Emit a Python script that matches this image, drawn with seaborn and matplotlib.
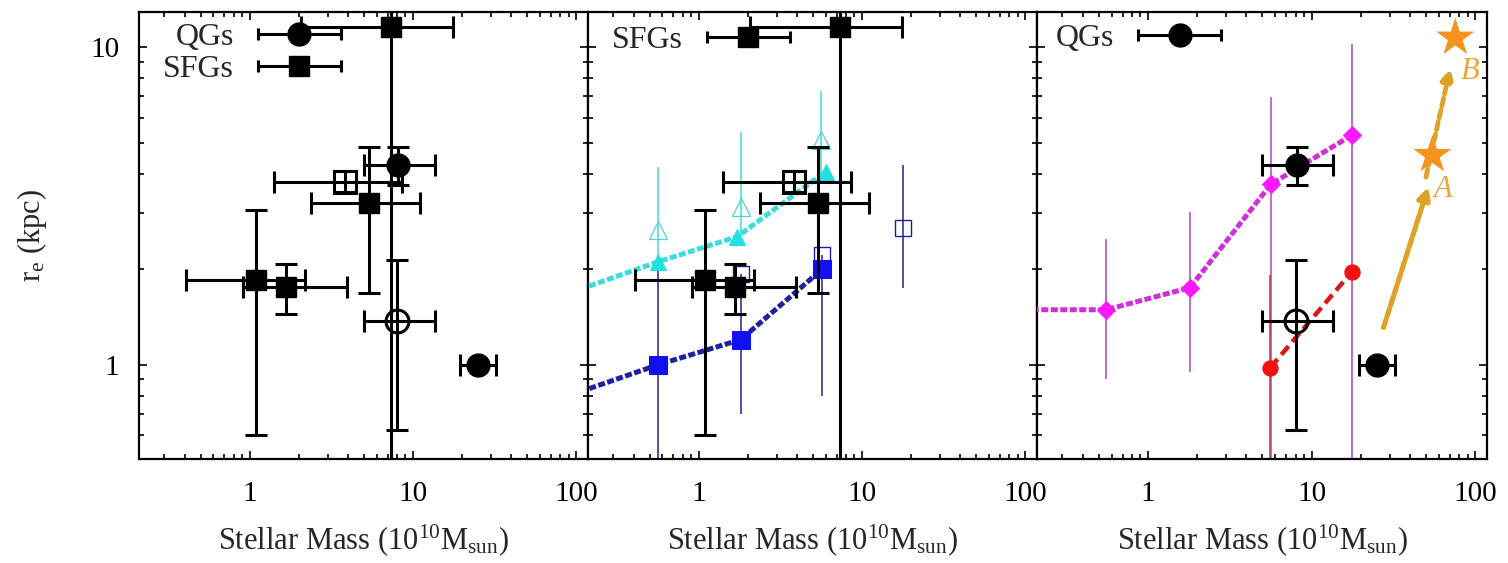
import numpy as np
import matplotlib
matplotlib.use("Agg")
import matplotlib.pyplot as plt
import matplotlib.ticker as mticker
import seaborn as sns
from matplotlib.container import ErrorbarContainer
from matplotlib.legend_handler import HandlerErrorbar

# ---------------- data (stellar mass in 1e10 Msun, r_e in kpc) ----------------
# star-forming galaxies, filled black squares: value, lower, upper
sfg_mass = [7.3, 5.37, 1.10, 1.68]
sfg_mass_lo = [2.05, 2.39, 0.41, 0.914]
sfg_mass_hi = [17.5, 11.0, 2.18, 3.92]
sfg_re = [11.6, 3.22, 1.85, 1.76]
sfg_re_lo = [0.5, 1.68, 0.60, 1.445]
sfg_re_hi = [25.0, 4.85, 3.08, 2.08]
# star-forming galaxy, open black square
sfgo_mass = [3.83]
sfgo_mass_lo = [1.41]
sfgo_mass_hi = [8.6]
sfgo_re = [3.77]
sfgo_re_lo = [3.50]
sfgo_re_hi = [4.08]
# quiescent galaxies, filled black circles
qg_mass = [8.1, 25.1]
qg_mass_lo = [5.0, 19.4]
qg_mass_hi = [13.6, 32.2]
qg_re = [4.25, 1.0]
qg_re_lo = [3.67, 1.0]
qg_re_hi = [4.85, 1.0]
# quiescent galaxy, open black circle
qgo_mass = [8.0]
qgo_mass_lo = [5.0]
qgo_mass_hi = [13.6]
qgo_re = [1.37]
qgo_re_lo = [0.625]
qgo_re_hi = [2.13]

# panel 2: cyan relation (filled triangles) and open triangles with upper bars
cyan_mass = [0.1, 0.564, 1.72, 5.98]
cyan_re = [1.54, 2.11, 2.53, 4.05]
cyan_open_mass = [0.564, 1.81, 5.6]
cyan_open_re = [2.66, 3.14, 5.09]
cyan_open_lo = [2.11, 2.53, 4.05]
cyan_open_hi = [4.2, 5.4, 7.3]
# panel 2: blue relation (filled squares) with navy error bars
blue_mass = [0.1, 0.564, 1.81, 5.71]
blue_re = [0.735, 1.0, 1.20, 2.0]
blue_err_mass = [0.564, 1.81, 5.71]
blue_err_re = [1.0, 1.20, 2.0]
blue_err_lo = [0.4, 0.70, 0.80]
blue_err_hi = [2.05, 1.93, 2.22]
# panel 2: navy open squares
navy_mass = [1.81, 5.71, 17.9]
navy_re = [1.93, 2.22, 2.70]
navy_lo = [1.93, 2.22, 1.74]
navy_hi = [1.93, 2.22, 4.25]

# panel 3: magenta relation (diamonds)
mag_mass = [0.1, 0.557, 1.81, 5.64, 17.6]
mag_re = [1.49, 1.49, 1.75, 3.70, 5.28]
mag_err_mass = [0.557, 1.81, 5.64, 17.6]
mag_err_re = [1.49, 1.75, 3.70, 5.28]
mag_err_lo = [0.90, 0.946, 0.4, 0.4]
mag_err_hi = [2.48, 3.03, 6.96, 10.2]
# panel 3: red relation (circles)
red_mass = [5.6, 17.6]
red_re = [0.98, 1.96]
red_err_mass = [5.6]
red_err_re = [0.98]
red_err_lo = [0.4]
red_err_hi = [1.92]
# panel 3: orange stars A and B, and arrows towards them
star_mass = [54.7, 75.5]
star_re = [4.57, 10.7]
star_labels = ["A", "B"]
star_label_mass = [63.8, 93.0]
star_label_re = [3.55, 8.4]
arrow_tail_mass = [27.5, 50.0]
arrow_tail_re = [1.31, 3.9]
arrow_head_mass = [51.7, 70.4]
arrow_head_re = [3.63, 8.59]

x_ticks = [1, 10, 100]
x_ticklabels = ["1", "10", "100"]
y_ticks = [1, 10]
y_ticklabels = ["1", "10"]

# ---------------- style ----------------
sns.set_theme(style="ticks")
plt.rcParams["font.family"] = ["Liberation Serif", "DejaVu Serif"]
plt.rcParams["mathtext.fontset"] = "custom"
plt.rcParams["mathtext.rm"] = "Liberation Serif"
plt.rcParams["mathtext.it"] = "Liberation Serif:italic"
plt.rcParams["mathtext.bf"] = "Liberation Serif:bold"

W, H = 1508, 563
fig = plt.figure(figsize=(W / 100, H / 100), dpi=100)
top_px, bot_px = 12, 459
lefts = [139, 588, 1037]
widths = [449, 449, 450]
axes = [fig.add_axes([l / W, 1 - bot_px / H, w / W, (bot_px - top_px) / H])
        for l, w in zip(lefts, widths)]

BLK = dict(color="black", elinewidth=2.2, capsize=8, capthick=2.2, ls="none", zorder=5)


def asym(v, lo, hi):
    v = np.asarray(v, float)
    return [v - np.asarray(lo, float), np.asarray(hi, float) - v]


for ax in axes:
    ax.set_xscale("log")
    ax.set_yscale("log")


def draw_sfg(ax):
    ax.errorbar(sfg_mass, sfg_re, xerr=asym(sfg_mass, sfg_mass_lo, sfg_mass_hi),
                yerr=asym(sfg_re, sfg_re_lo, sfg_re_hi), marker="s", ms=15,
                mfc="black", mec="black", **BLK)
    ax.errorbar(sfgo_mass, sfgo_re, xerr=asym(sfgo_mass, sfgo_mass_lo, sfgo_mass_hi),
                yerr=asym(sfgo_re, sfgo_re_lo, sfgo_re_hi), marker="s", ms=16,
                mfc="none", mec="black", mew=2.2, **BLK)


def draw_qg(ax):
    ax.errorbar(qg_mass, qg_re, xerr=asym(qg_mass, qg_mass_lo, qg_mass_hi),
                yerr=asym(qg_re, qg_re_lo, qg_re_hi), marker="o", ms=16.5,
                mfc="black", mec="black", **BLK)
    ax.errorbar(qgo_mass, qgo_re, xerr=asym(qgo_mass, qgo_mass_lo, qgo_mass_hi),
                yerr=asym(qgo_re, qgo_re_lo, qgo_re_hi), marker="o", ms=16.5,
                mfc="none", mec="black", mew=2.2, **BLK)


def legend_handle(ax, marker, ms):
    return ax.errorbar([np.nan], [np.nan], xerr=[[np.nan], [np.nan]], marker=marker,
                       ms=ms, color="black", mfc="black", mec="black",
                       elinewidth=2.2, capsize=4, capthick=2.2, ls="none")


def add_legend(ax, handles, labels, x0, y0):
    ax.legend(handles=handles, labels=labels, loc="upper left",
              bbox_to_anchor=(x0, y0), markerfirst=False, frameon=False,
              fontsize=23, handlelength=3.0, handletextpad=0.55,
              labelspacing=0.08, borderpad=0, borderaxespad=0,
              handler_map={ErrorbarContainer: HandlerErrorbar(xerr_size=1.3)})


ax1, ax2, ax3 = axes

# ---- panel 1 ----
draw_sfg(ax1)
draw_qg(ax1)
add_legend(ax1, [legend_handle(ax1, "o", 16.5), legend_handle(ax1, "s", 15)],
           ["QGs", "SFGs"], 24 / 449, 1 - 11 / 447)

# ---- panel 2 ----
ax2.errorbar(cyan_open_mass, cyan_open_re, yerr=asym(cyan_open_re, cyan_open_lo, cyan_open_hi),
             marker="^", ms=13, mfc="none", mec="#48D8D8", mew=0.9, ecolor="#48D8D8",
             elinewidth=1.1, ls="none", zorder=2)
ax2.errorbar(blue_err_mass, blue_err_re, yerr=asym(blue_err_re, blue_err_lo, blue_err_hi),
             ls="none", marker="none", ecolor="#23237E", elinewidth=1.1, zorder=2)
ax2.errorbar(navy_mass, navy_re, yerr=asym(navy_re, navy_lo, navy_hi),
             marker="s", ms=12, mfc="none", mec="#1E1E96", mew=1.0, ecolor="#23237E",
             elinewidth=1.1, ls="none", zorder=2)
sns.lineplot(x=cyan_mass, y=cyan_re, ax=ax2, sort=False, estimator=None,
             color="#3CDCDC", lw=3.6, linestyle=(0, (1.4, 0.5)), marker="^",
             markersize=12, markerfacecolor="#22E0E0", markeredgecolor="#22E0E0", zorder=3)
sns.lineplot(x=blue_mass, y=blue_re, ax=ax2, sort=False, estimator=None,
             color="#1F1FA0", lw=3.6, linestyle=(0, (1.4, 0.5)), marker="s",
             markersize=13, markerfacecolor="#1010F0", markeredgecolor="#1010F0", zorder=3)
draw_sfg(ax2)
add_legend(ax2, [legend_handle(ax2, "s", 15)], ["SFGs"], 24 / 449, 1 - 14 / 447)

# ---- panel 3 ----
ax3.errorbar(mag_err_mass, mag_err_re, yerr=asym(mag_err_re, mag_err_lo, mag_err_hi),
             ls="none", marker="none", ecolor="#A848C8", elinewidth=1.1, zorder=2)
ax3.errorbar(red_err_mass, red_err_re, yerr=asym(red_err_re, red_err_lo, red_err_hi),
             ls="none", marker="none", ecolor="#B03A3A", elinewidth=1.1, zorder=2)
sns.lineplot(x=mag_mass, y=mag_re, ax=ax3, sort=False, estimator=None,
             color="#D030D8", lw=3.6, linestyle=(0, (1.4, 0.5)), marker="D",
             markersize=9, markerfacecolor="#FF18FF", markeredgecolor="#FF18FF", zorder=3)
sns.lineplot(x=red_mass, y=red_re, ax=ax3, sort=False, estimator=None,
             color="#D81818", lw=3.2, linestyle=(0, (2.5, 1.3)), marker="o",
             markersize=11, markerfacecolor="#F21010", markeredgecolor="#F21010", zorder=3)
# arrows toward A and B
ax3.annotate("", xy=(arrow_head_mass[0], arrow_head_re[0]),
             xytext=(arrow_tail_mass[0], arrow_tail_re[0]),
             arrowprops=dict(arrowstyle="-|>", lw=3.5, color="#EDB23A",
                             mutation_scale=18, shrinkA=0, shrinkB=0), zorder=3)
for i in range(2):
    ax3.annotate("", xy=(arrow_head_mass[i], arrow_head_re[i]),
                 xytext=(arrow_tail_mass[i], arrow_tail_re[i]),
                 arrowprops=dict(arrowstyle="-|>", lw=3.5, color="#DDA22A", ls=(0, (1.6, 0.9)),
                                 mutation_scale=18, shrinkA=0, shrinkB=0), zorder=3)
sns.scatterplot(x=star_mass, y=star_re, ax=ax3, marker="*", s=29 ** 2,
                color="#F5931E", edgecolor="none", zorder=4, legend=False)
for lab, xm, yr in zip(star_labels, star_label_mass, star_label_re):
    ax3.text(xm, yr, lab, fontsize=22, fontstyle="italic", color="#EBA53A",
             ha="center", va="center", zorder=4)
draw_qg(ax3)
add_legend(ax3, [legend_handle(ax3, "o", 16.5)], ["QGs"], 19 / 450, 1 - 12 / 447)

# ---------------- axes formatting ----------------
for i, ax in enumerate(axes):
    ax.set_xlim(0.21, 118)
    ax.set_ylim(0.505, 12.9)
    ax.set_xticks(x_ticks)
    ax.set_xticklabels(x_ticklabels)
    ax.xaxis.set_minor_locator(mticker.LogLocator(base=10, subs=np.arange(2, 10), numticks=20))
    ax.xaxis.set_minor_formatter(mticker.NullFormatter())
    ax.set_yticks(y_ticks)
    ax.yaxis.set_minor_locator(mticker.LogLocator(base=10, subs=np.arange(2, 10), numticks=20))
    ax.yaxis.set_minor_formatter(mticker.NullFormatter())
    ax.tick_params(which="both", direction="in", top=True, right=True,
                   width=1.2, colors="black", labelsize=21)
    ax.tick_params(which="major", length=6)
    ax.tick_params(which="minor", length=3.5)
    ax.tick_params(axis="x", which="major", pad=16)
    ax.tick_params(axis="y", which="major", pad=14)
    for s in ax.spines.values():
        s.set_linewidth(1.6)
        s.set_color("black")
    ax.set_xlabel("Stellar Mass (10$^{10}$M$_\\mathrm{sun}$)", fontsize=22, labelpad=11)
    if i == 0:
        ax.set_yticklabels(y_ticklabels)
        ax.set_ylabel("r$_\\mathrm{e}$ (kpc)", fontsize=22, labelpad=30)
    else:
        ax.tick_params(axis="y", labelleft=False)
    ax.set_facecolor("white")

fig.savefig("out.png", dpi=100, facecolor="white")
